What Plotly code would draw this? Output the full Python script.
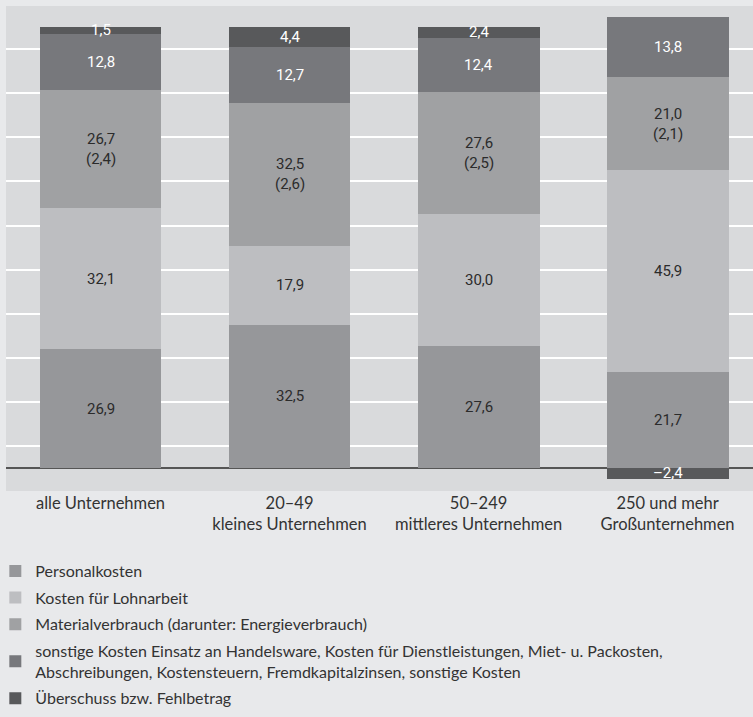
import plotly.graph_objects as go

categories = ["alle Unternehmen", "20–49<br>kleines Unternehmen",
              "50–249<br>mittleres Unternehmen", "250 und mehr<br>Großunternehmen"]
personal = [26.9, 32.5, 27.6, 21.7]
lohnarbeit = [32.1, 17.9, 30.0, 45.9]
material = [26.7, 32.5, 27.6, 21.0]
energie = [2.4, 2.6, 2.5, 2.1]
sonstige = [12.8, 12.7, 12.4, 13.8]
ueberschuss = [1.5, 4.4, 2.4, -2.4]

series_names = [
    "Personalkosten",
    "Kosten für Lohnarbeit",
    "Materialverbrauch (darunter: Energieverbrauch)",
    "sonstige Kosten Einsatz an Handelsware, Kosten für Dienstleistungen, Miet- u. Packosten,<br>Abschreibungen, Kostensteuern, Fremdkapitalzinsen, sonstige Kosten",
    "Überschuss bzw. Fehlbetrag",
]
series_values = [personal, lohnarbeit, material, sonstige, ueberschuss]
colors = ["#96979a", "#bdbec1", "#a0a1a3", "#77787c", "#58595b"]
label_colors = ["#2b2b2b", "#2b2b2b", "#2b2b2b", "#ffffff", "#ffffff"]

def fmt(v):
    s = f"{abs(v):.1f}".replace(".", ",")
    return ("–" + s) if v < 0 else s

x_idx = list(range(len(categories)))
fig = go.Figure()
for i, (name, vals) in enumerate(zip(series_names, series_values)):
    fig.add_trace(go.Bar(
        x=x_idx, y=vals, name=name, marker=dict(color=colors[i], line=dict(width=0)),
        width=0.645, legendgroup=f"g{i}", hoverinfo="skip",
    ))

annotations = []
pos_base = [0.0] * len(categories)
neg_base = [0.0] * len(categories)
for i, vals in enumerate(series_values):
    for j, v in enumerate(vals):
        if v >= 0:
            mid = pos_base[j] + v / 2
            pos_base[j] += v
        else:
            mid = neg_base[j] + v / 2
            neg_base[j] += v
        text = fmt(v)
        if i == 2:
            text = text + "<br>(" + fmt(energie[j]) + ")"
        annotations.append(dict(
            x=j, y=mid, xref="x", yref="y", text=text, showarrow=False,
            font=dict(family="Roboto", size=15, color=label_colors[i]),
            xanchor="center", yanchor="middle",
        ))

fig.update_layout(
    width=753, height=717,
    margin=dict(l=6, r=0, t=6, b=226, pad=0, autoexpand=False),
    paper_bgcolor="#e8e9eb", plot_bgcolor="#d9dadc",
    barmode="relative", bargap=0,
    showlegend=True,
    legend=dict(
        x=-0.0143, y=-0.13, xanchor="left", yanchor="top",
        traceorder="grouped", tracegroupgap=2.8,
        font=dict(family="Lato", size=16, color="#333333"),
        bgcolor="rgba(0,0,0,0)", itemclick=False, itemdoubleclick=False,
    ),
    annotations=annotations,
    xaxis=dict(
        tickmode="array", tickvals=x_idx, ticktext=categories,
        range=[-0.5, 3.452], showgrid=False, zeroline=False, showline=False,
        ticks="", tickfont=dict(family="Lato", size=16.5, color="#333333"),
        ticklabelstandoff=0,
    ),
    yaxis=dict(
        range=[-5.2, 104.8], tickmode="array", tickvals=[5, 15, 25, 35, 45, 55, 65, 75, 85, 95],
        showticklabels=False, showgrid=True, gridcolor="#ffffff", gridwidth=2,
        zeroline=True, zerolinecolor="#555555", zerolinewidth=1.5, showline=False,
    ),
)

fig.write_html("out.html", config={"displayModeBar": False},
               post_script="document.body.style.margin='0';document.body.style.background='#e8e9eb';")
